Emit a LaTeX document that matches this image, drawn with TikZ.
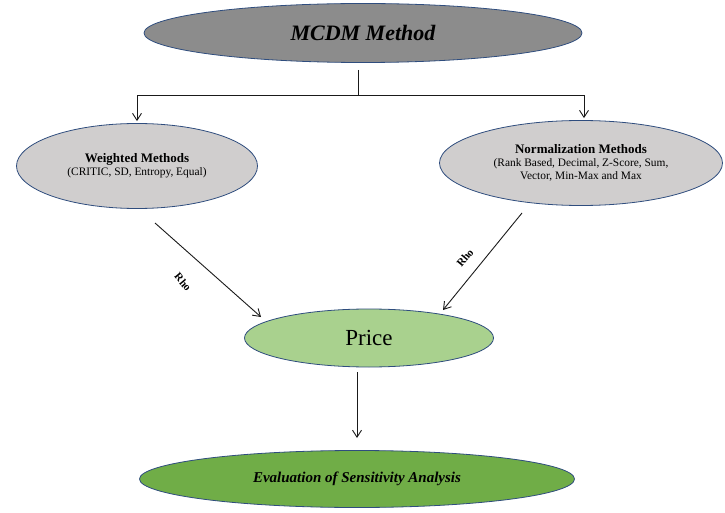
\documentclass[tikz,border=0pt]{standalone}
\usepackage{fontspec}
\setmainfont{Liberation Serif}
\usetikzlibrary{
  shapes.geometric,
  arrows.meta,
  positioning,
  calc
}
\definecolor{topgray}{HTML}{8C8C8C}
\definecolor{lightgray}{HTML}{D0CECE}
\definecolor{palegreen}{HTML}{A9D18E}
\definecolor{leafgreen}{HTML}{70AD47}
\definecolor{border}{HTML}{2F4D7E}
\definecolor{linecolor}{HTML}{1A1A1A}
\newcommand{\nhead}[1]{{\fontsize{13}{15}\selectfont\bfseries #1}}
\newcommand{\nsub}[1]{{\fontsize{11.4}{13}\selectfont #1}}
\tikzset{
  blob/.style={
    ellipse,
    draw=border,
    fill=#1,
    line width=0.8pt,
    inner sep=0pt,
    align=center,
    text=black,
  },
  blob/.default=lightgray,
  link/.style={
    line width=0.9pt,
    draw=linecolor,
  },
  flow/.style={
    link,
    -{Straight Barb[length=7pt, width=9pt, line width=0.9pt]},
  },
  rholabel/.style={
    font=\fontsize{11}{13}\selectfont\bfseries,
    inner sep=1pt,
  },
}

\begin{document}
\begin{tikzpicture}[x=1pt, y=1pt]

\useasboundingbox (0,0) rectangle (725,512);

% === TOP: MCDM ===

\node[blob=topgray, minimum width=438pt, minimum height=59pt,
  font=\fontsize{22}{26}\selectfont\bfseries\itshape]
  (mcdm) at (363,479) {MCDM Method};

% === ROW 2: method families ===

\node[blob=lightgray, minimum width=241pt, minimum height=85pt]
  (weighted) at (137,346)
  {\nhead{Weighted Methods}\\[1pt]
   \nsub{(CRITIC, SD, Entropy, Equal)}};

\node[blob=lightgray, minimum width=283pt, minimum height=85pt]
  (norm) at (581,349)
  {\nhead{Normalization Methods}\\[1pt]
   \nsub{(Rank Based, Decimal, Z-Score, Sum,}\\[1pt]
   \nsub{Vector, Min-Max and Max}};

% MCDM split to both families
\coordinate (stem) at (358,442);
\coordinate (split) at (358,417);
\draw[link] (stem) -- (split);
\draw[flow] (split) -| ([yshift=2pt]weighted.north);
\draw[flow] (split) -| ([xshift=3pt, yshift=2pt]norm.north);

% === ROW 3: Price ===

\node[blob=palegreen, minimum width=249pt, minimum height=58pt,
  font=\fontsize{23}{27}\selectfont]
  (price) at (369,174) {Price};

\coordinate (wfoot) at (155,289);
\coordinate (pleft) at (261,195);
\coordinate (nfoot) at (522,299);
\coordinate (pright) at (443,202);

\draw[flow] (wfoot) -- (pleft);
\draw[flow] (nfoot) -- (pright);

\node[rholabel, rotate=-50] (rholeft) at (183,230) {Rho};
\node[rholabel, rotate=50] (rhoright) at (465,254) {Rho};

% === ROW 4: Evaluation ===

\node[blob=leafgreen, minimum width=435pt, minimum height=57pt,
  font=\fontsize{15}{18}\selectfont\bfseries\itshape]
  (eval) at (357,33) {Evaluation of Sensitivity Analysis};

\coordinate (pfoot) at (357,140);
\coordinate (ehead) at (357,74);
\draw[flow] (pfoot) -- (ehead);

\end{tikzpicture}
\end{document}
